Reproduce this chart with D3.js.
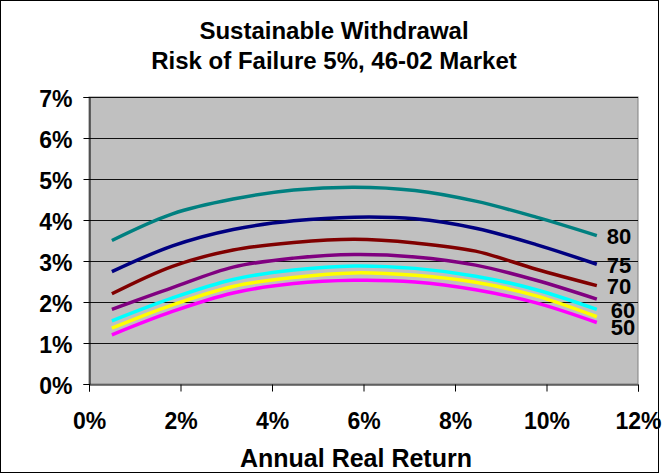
<!DOCTYPE html>
<html>
<head>
<meta charset="utf-8">
<script src="https://cdn.jsdelivr.net/npm/d3@7"></script>
<style>
  html, body { margin: 0; padding: 0; background: #fff; }
  svg { display: block; }
  svg text { font-family: "Liberation Sans", Arial, sans-serif; font-weight: 700; }
</style>
</head>
<body>
<svg id="chart" width="662" height="474"></svg>
<script>
// Annual real return (%) at which each withdrawal rate was evaluated
const returns = [0.5, 1.825, 3.15, 4.475, 5.8, 7.125, 8.45, 9.775, 11.1];

// Sustainable withdrawal rate (%) by retirement age
const age80 = [3.50, 4.15, 4.51, 4.73, 4.80, 4.72, 4.46, 4.07, 3.62];
const age75 = [2.74, 3.37, 3.77, 3.98, 4.07, 4.03, 3.80, 3.40, 2.92];
const age70 = [2.20, 2.87, 3.27, 3.45, 3.53, 3.44, 3.24, 2.80, 2.40];
const age65 = [1.82, 2.35, 2.85, 3.07, 3.16, 3.10, 2.90, 2.53, 2.07];
const age60 = [1.54, 2.10, 2.55, 2.78, 2.88, 2.82, 2.63, 2.30, 1.82];
const age55 = [1.36, 1.93, 2.38, 2.60, 2.71, 2.65, 2.48, 2.15, 1.64];
const age50 = [1.20, 1.77, 2.22, 2.45, 2.53, 2.49, 2.30, 1.98, 1.50];

const seriesNames = ["80", "75", "70", "65", "60", "55", "50"];
const seriesValues = [age80, age75, age70, age65, age60, age55, age50];
const seriesColors = ["#008080", "#000080", "#800000", "#800080", "#00ffff", "#ffff00", "#ff00ff"];
// Ages that carry an end-of-line label
const labelledAges = ["80", "75", "70", "60", "50"];

const xTicks = [0, 2, 4, 6, 8, 10, 12];
const yTicks = [0, 1, 2, 3, 4, 5, 6, 7];

const titleLines = ["Sustainable Withdrawal", "Risk of Failure 5%, 46-02 Market"];
const xTitle = "Annual Real Return";

const svg = d3.select("#chart");
const plot = { left: 89, right: 638, top: 97, bottom: 384 };

// Outer chart frame
svg.append("rect")
  .attr("x", 0.5).attr("y", 0.5)
  .attr("width", 658).attr("height", 472)
  .attr("fill", "#fff").attr("stroke", "#000").attr("stroke-width", 1);

const x = d3.scaleLinear().domain([0, 12]).range([plot.left, plot.right]);
const y = d3.scaleLinear().domain([0, 7]).range([plot.bottom, plot.top]);

// Plot background
svg.append("rect")
  .attr("x", plot.left).attr("y", plot.top)
  .attr("width", plot.right - plot.left).attr("height", plot.bottom - plot.top)
  .attr("fill", "#c0c0c0").attr("stroke", "#808080").attr("stroke-width", 1);

// Horizontal gridlines
svg.append("g").selectAll("line")
  .data(yTicks.filter(d => d > 0))
  .join("line")
  .attr("x1", plot.left).attr("x2", plot.right)
  .attr("y1", d => Math.round(y(d)) + 0.5).attr("y2", d => Math.round(y(d)) + 0.5)
  .attr("stroke", "#111").attr("stroke-width", 1);

// Y axis
const yAxis = svg.append("g")
  .attr("transform", `translate(${plot.left + 0.5},0)`)
  .call(d3.axisLeft(y).tickValues(yTicks).tickFormat(d => d + "%").tickSize(6).tickPadding(11));
yAxis.select(".domain").attr("stroke", "#000");
yAxis.selectAll(".tick line").attr("stroke", "#000");
yAxis.selectAll(".tick text")
  .attr("font-family", null)
  .attr("font-size", 23).attr("fill", "#000")
  .attr("dy", "0.42em");

// X axis
const xAxis = svg.append("g")
  .attr("transform", `translate(0,${plot.bottom + 0.5})`)
  .call(d3.axisBottom(x).tickValues(xTicks).tickFormat(d => d + "%").tickSize(7).tickPadding(21));
xAxis.select(".domain").attr("stroke", "#000");
xAxis.selectAll(".tick line").attr("stroke", "#000");
xAxis.selectAll(".tick text")
  .attr("font-family", null)
  .attr("font-size", 23).attr("fill", "#000");

// Series lines
const line = d3.line()
  .x((d, i) => x(returns[i]))
  .y(d => y(d))
  .curve(d3.curveCatmullRom.alpha(0.5));

svg.append("g").selectAll("path")
  .data(seriesValues)
  .join("path")
  .attr("d", d => line(d))
  .attr("fill", "none")
  .attr("stroke", (d, i) => seriesColors[i])
  .attr("stroke-width", 3.5)
  .attr("stroke-linejoin", "round");

// End-of-line age labels
const labelShift = { "80": [0, 0], "75": [0, 1], "70": [0, 0], "60": [4, 1], "50": [4, 5] };
svg.append("g").selectAll("text")
  .data(seriesNames.map((n, i) => ({ name: n, v: seriesValues[i][seriesValues[i].length - 1] }))
    .filter(d => labelledAges.includes(d.name)))
  .join("text")
  .attr("x", d => x(returns[returns.length - 1]) + 10 + labelShift[d.name][0])
  .attr("y", d => y(d.v) + labelShift[d.name][1])
  .attr("dy", "0.36em")
  .attr("font-size", 22).attr("fill", "#000")
  .text(d => d.name);

// Titles
svg.append("g").selectAll("text")
  .data(titleLines)
  .join("text")
  .attr("x", 334).attr("y", (d, i) => 39 + i * 30)
  .attr("text-anchor", "middle")
  .attr("font-weight", "bold")
  .attr("font-size", 24).attr("fill", "#000")
  .text(d => d);

svg.append("text")
  .attr("x", 356).attr("y", 467)
  .attr("text-anchor", "middle")
  .attr("font-weight", "bold")
  .attr("font-size", 25).attr("fill", "#000")
  .text(xTitle);
</script>
</body>
</html>
